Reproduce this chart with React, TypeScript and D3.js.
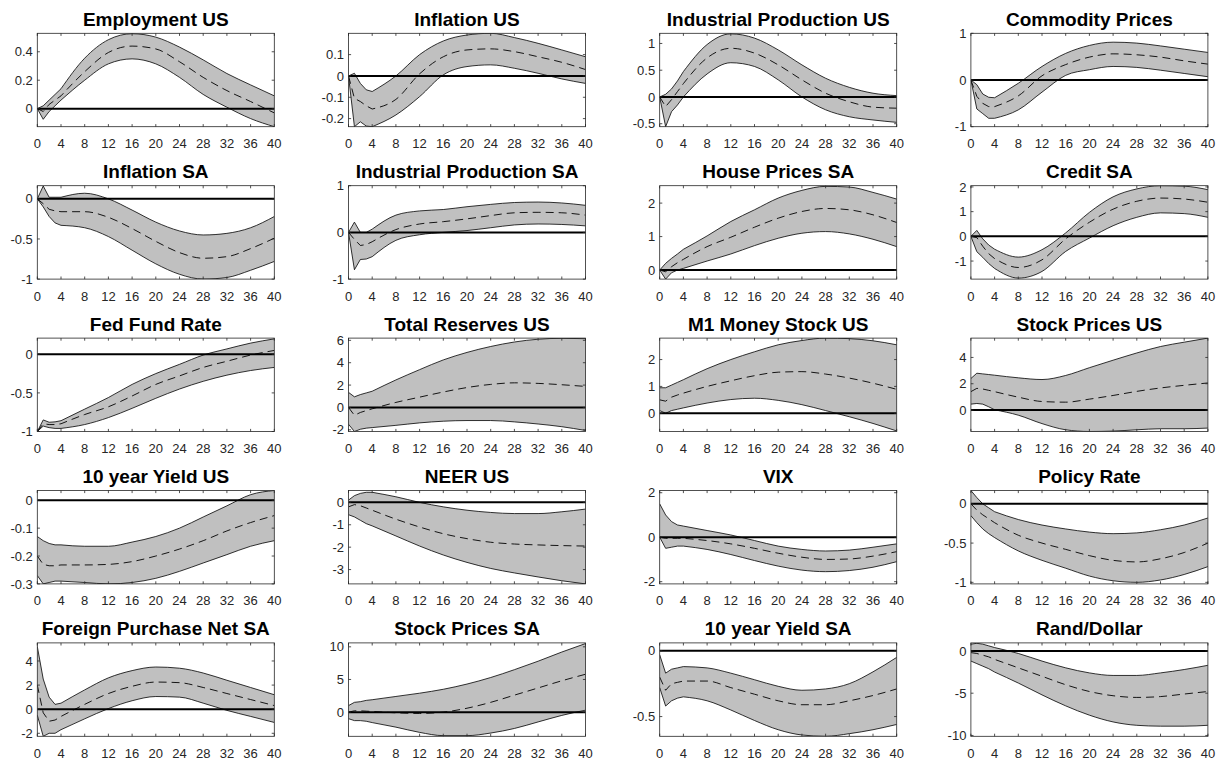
import React from "react";
import * as d3 from "d3";

// Forecast horizons (quarters) at which each response is recorded
const horizons = [0, 1, 2, 3, 4, 8, 12, 16, 20, 24, 28, 32, 36, 40];
const xTicks = [0, 4, 8, 12, 16, 20, 24, 28, 32, 36, 40];
// Responses are joined with straight segments up to this index, smooth curves after it
const KNOT = 4;

const titles = [
  "Employment US", "Inflation US", "Industrial Production US", "Commodity Prices",
  "Inflation SA", "Industrial Production SA", "House Prices SA", "Credit SA",
  "Fed Fund Rate", "Total Reserves US", "M1 Money Stock US", "Stock Prices US",
  "10 year Yield US", "NEER US", "VIX", "Policy Rate",
  "Foreign Purchase Net SA", "Stock Prices SA", "10 year Yield SA", "Rand/Dollar",
];

const yDomains: [number, number][] = [
  [-0.127, 0.53], [-0.238, 0.2], [-0.556, 1.19], [-1, 1],
  [-1.0, 0.164], [-1, 1], [-0.27, 2.52], [-1.73, 2.05],
  [-1.0, 0.21], [-2.15, 6.2], [-0.68, 2.8], [-1.63, 5.47],
  [-0.3, 0.035], [-3.64, 0.53], [-2.1, 2.1], [-1.02, 0.17],
  [-2.25, 5.5], [-3.7, 10.6], [-0.65, 0.06], [-10.1, 0.95],
];

const yTickValues = [
  [0, 0.2, 0.4], [-0.2, -0.1, 0, 0.1], [-0.5, 0, 0.5, 1], [-1, 0, 1],
  [-1, -0.5, 0], [-1, 0, 1], [0, 1, 2], [-1, 0, 1, 2],
  [-1, -0.5, 0], [-2, 0, 2, 4, 6], [0, 1, 2], [0, 2, 4],
  [-0.3, -0.2, -0.1, 0], [-3, -2, -1, 0], [-2, 0, 2], [-1, -0.5, 0],
  [-2, 0, 2, 4], [0, 5, 10], [-0.5, 0], [-10, -5, 0],
];

// Impulse responses: lower band, median, upper band
const employmentUS = {
  lo: [0, -0.075, -0.02, 0.02, 0.06, 0.2, 0.315, 0.35, 0.315, 0.22, 0.1, 0.01, -0.07, -0.127],
  mid: [0, -0.02, 0.03, 0.06, 0.09, 0.26, 0.395, 0.44, 0.42, 0.33, 0.22, 0.127, 0.05, -0.03],
  hi: [0, 0.02, 0.06, 0.1, 0.14, 0.355, 0.485, 0.527, 0.503, 0.433, 0.343, 0.247, 0.167, 0.09],
};
const inflationUS = {
  lo: [0, -0.238, -0.215, -0.235, -0.238, -0.183, -0.097, 0.005, 0.044, 0.052, 0.036, 0.0125, -0.014, -0.035],
  mid: [0, -0.105, -0.12, -0.14, -0.155, -0.11, 0.01, 0.09, 0.122, 0.127, 0.114, 0.09, 0.064, 0.03],
  hi: [0, 0.0125, -0.035, -0.065, -0.073, 0, 0.1, 0.164, 0.192, 0.2, 0.18, 0.153, 0.122, 0.09],
};
const indProdUS = {
  lo: [0, -0.556, -0.275, -0.15, 0.0, 0.43, 0.64, 0.57, 0.32, 0.0, -0.24, -0.37, -0.43, -0.475],
  mid: [0, -0.18, -0.05, 0.1, 0.25, 0.73, 0.91, 0.82, 0.6, 0.32, 0.07, -0.09, -0.19, -0.21],
  hi: [0, 0.05, 0.15, 0.3, 0.475, 0.98, 1.18, 1.1, 0.88, 0.6, 0.35, 0.18, 0.07, 0.025],
};
const commodityPrices = {
  lo: [0, -0.62, -0.72, -0.82, -0.82, -0.64, -0.26, 0.1, 0.22, 0.29, 0.27, 0.21, 0.14, 0.07],
  mid: [0, -0.35, -0.5, -0.57, -0.57, -0.34, 0.09, 0.33, 0.49, 0.56, 0.54, 0.49, 0.41, 0.34],
  hi: [0, -0.1, -0.3, -0.37, -0.38, -0.07, 0.29, 0.57, 0.74, 0.81, 0.79, 0.73, 0.66, 0.59],
};
const inflationSA = {
  lo: [0, -0.1, -0.22, -0.3, -0.33, -0.36, -0.47, -0.64, -0.81, -0.94, -1.0, -0.98, -0.89, -0.78],
  mid: [0, -0.06, -0.13, -0.15, -0.16, -0.16, -0.23, -0.37, -0.53, -0.67, -0.74, -0.72, -0.62, -0.49],
  hi: [0, 0.16, 0.02, 0.02, 0.02, 0.07, 0.0, -0.14, -0.29, -0.4, -0.45, -0.43, -0.36, -0.22],
};
const indProdSA = {
  lo: [0, -0.8, -0.58, -0.57, -0.52, -0.17, -0.05, 0.0, 0.04, 0.1, 0.16, 0.18, 0.17, 0.14],
  mid: [0, -0.15, -0.28, -0.26, -0.2, 0.06, 0.18, 0.23, 0.29, 0.36, 0.42, 0.43, 0.42, 0.37],
  hi: [0, 0.22, 0.0, 0.0, 0.07, 0.37, 0.46, 0.49, 0.55, 0.6, 0.64, 0.65, 0.63, 0.58],
};
const housePricesSA = {
  lo: [0, -0.27, -0.08, 0.0, 0.05, 0.27, 0.48, 0.73, 0.95, 1.1, 1.15, 1.08, 0.92, 0.7],
  mid: [0, -0.05, 0.1, 0.22, 0.32, 0.7, 0.98, 1.28, 1.55, 1.75, 1.84, 1.8, 1.65, 1.42],
  hi: [0, 0.2, 0.35, 0.48, 0.62, 1.02, 1.45, 1.8, 2.15, 2.38, 2.5, 2.48, 2.32, 2.12],
};
const creditSA = {
  lo: [0, -0.62, -0.85, -1.1, -1.3, -1.69, -1.42, -0.61, -0.07, 0.43, 0.77, 0.95, 0.92, 0.77],
  mid: [0, -0.05, -0.4, -0.7, -0.9, -1.26, -0.95, -0.1, 0.57, 1.1, 1.42, 1.55, 1.51, 1.38],
  hi: [0, 0.24, -0.1, -0.35, -0.52, -0.84, -0.54, 0.14, 0.97, 1.6, 1.92, 2.05, 2.03, 1.89],
};
const fedFundRate = {
  lo: [-1.0, -0.93, -0.95, -0.96, -0.96, -0.91, -0.82, -0.7, -0.57, -0.45, -0.35, -0.27, -0.21, -0.17],
  mid: [-1.0, -0.9, -0.91, -0.91, -0.9, -0.78, -0.68, -0.54, -0.39, -0.28, -0.17, -0.09, -0.01, 0.05],
  hi: [-1.0, -0.85, -0.88, -0.875, -0.86, -0.71, -0.56, -0.39, -0.25, -0.13, -0.01, 0.07, 0.145, 0.2],
};
const totalReservesUS = {
  lo: [-1.5, -2.15, -1.95, -1.85, -1.8, -1.6, -1.38, -1.23, -1.17, -1.17, -1.29, -1.48, -1.72, -2.06],
  mid: [0, -0.7, -0.45, -0.28, -0.12, 0.45, 0.92, 1.38, 1.78, 2.06, 2.2, 2.15, 2.03, 1.88],
  hi: [1.35, 0.95, 1.15, 1.3, 1.45, 2.46, 3.38, 4.25, 4.92, 5.45, 5.85, 6.1, 6.18, 6.15],
};
const m1MoneyStockUS = {
  lo: [0.1, 0.0, 0.1, 0.15, 0.2, 0.38, 0.51, 0.56, 0.48, 0.32, 0.1, -0.13, -0.38, -0.66],
  mid: [0.5, 0.45, 0.6, 0.68, 0.75, 1.0, 1.21, 1.4, 1.53, 1.55, 1.46, 1.31, 1.12, 0.89],
  hi: [0.95, 0.95, 1.05, 1.15, 1.25, 1.66, 2.0, 2.29, 2.55, 2.71, 2.8, 2.78, 2.7, 2.55],
};
const stockPricesUS = {
  lo: [0.45, 0.5, 0.45, 0.25, 0.02, -0.39, -1.03, -1.5, -1.63, -1.6, -1.5, -1.42, -1.42, -1.37],
  mid: [1.4, 1.65, 1.6, 1.5, 1.4, 0.98, 0.65, 0.6, 0.83, 1.11, 1.42, 1.68, 1.88, 2.06],
  hi: [2.4, 2.8, 2.75, 2.7, 2.65, 2.45, 2.32, 2.63, 3.22, 3.79, 4.34, 4.83, 5.16, 5.47],
};
const yield10US = {
  lo: [-0.27, -0.3, -0.295, -0.29, -0.29, -0.295, -0.3, -0.295, -0.28, -0.255, -0.225, -0.195, -0.165, -0.145],
  mid: [-0.2, -0.23, -0.235, -0.235, -0.232, -0.232, -0.23, -0.22, -0.2, -0.175, -0.145, -0.11, -0.08, -0.055],
  hi: [-0.13, -0.145, -0.155, -0.16, -0.16, -0.165, -0.165, -0.15, -0.13, -0.1, -0.06, -0.02, 0.02, 0.035],
};
const neerUS = {
  lo: [-0.55, -0.65, -0.8, -0.95, -1.05, -1.5, -1.95, -2.35, -2.68, -2.95, -3.15, -3.33, -3.5, -3.64],
  mid: [-0.2, -0.1, -0.15, -0.25, -0.35, -0.75, -1.1, -1.4, -1.62, -1.78, -1.86, -1.9, -1.93, -1.95],
  hi: [0.1, 0.3, 0.4, 0.45, 0.45, 0.25, 0.0, -0.2, -0.35, -0.45, -0.5, -0.5, -0.42, -0.3],
};
const vix = {
  lo: [0, -0.5, -0.45, -0.4, -0.4, -0.55, -0.78, -1.05, -1.3, -1.48, -1.55, -1.5, -1.35, -1.1],
  mid: [0, -0.05, -0.05, -0.05, -0.05, -0.15, -0.3, -0.5, -0.72, -0.9, -1.0, -0.98, -0.85, -0.65],
  hi: [1.5, 1.0, 0.7, 0.55, 0.5, 0.3, 0.1, -0.15, -0.4, -0.55, -0.62, -0.58, -0.45, -0.3],
};
const policyRate = {
  lo: [-0.15, -0.24, -0.32, -0.38, -0.43, -0.6, -0.72, -0.82, -0.92, -0.98, -1.0, -0.97, -0.9, -0.8],
  mid: [0, -0.08, -0.14, -0.19, -0.24, -0.4, -0.5, -0.58, -0.66, -0.72, -0.74, -0.7, -0.62, -0.5],
  hi: [0.17, 0.08, 0.0, -0.05, -0.1, -0.2, -0.27, -0.32, -0.36, -0.38, -0.37, -0.33, -0.27, -0.18],
};
const foreignPurchaseSA = {
  lo: [-0.5, -2.25, -2.0, -2.0, -1.7, -0.8, 0.05, 0.7, 1.05, 1.0, 0.5, -0.1, -0.6, -1.1],
  mid: [2.0, -0.3, -1.0, -0.9, -0.6, 0.4, 1.3, 1.9, 2.25, 2.2, 1.8, 1.3, 0.8, 0.3],
  hi: [5.2, 2.5, 1.0, 0.4, 0.5, 1.6, 2.6, 3.2, 3.5, 3.4, 3.0, 2.4, 1.8, 1.2],
};
const stockPricesSA = {
  lo: [-1.0, -1.3, -1.3, -1.4, -1.6, -2.3, -3.1, -3.6, -3.6, -3.2, -2.5, -1.5, -0.5, 0.3],
  mid: [0, 0.2, 0.2, 0.15, 0.1, -0.1, -0.2, 0.0, 0.6, 1.5, 2.6, 3.7, 4.8, 5.8],
  hi: [1.0, 1.5, 1.6, 1.8, 1.9, 2.4, 2.9, 3.5, 4.3, 5.3, 6.5, 7.8, 9.2, 10.5],
};
const yield10SA = {
  lo: [-0.28, -0.42, -0.38, -0.36, -0.35, -0.38, -0.45, -0.53, -0.6, -0.64, -0.65, -0.63, -0.6, -0.56],
  mid: [-0.2, -0.3, -0.25, -0.24, -0.23, -0.23, -0.28, -0.33, -0.38, -0.41, -0.41, -0.38, -0.34, -0.29],
  hi: [-0.03, -0.17, -0.14, -0.13, -0.12, -0.13, -0.17, -0.22, -0.27, -0.3, -0.29, -0.25, -0.16, -0.05],
};
const randDollar = {
  lo: [-1.2, -1.5, -1.8, -2.1, -2.5, -3.8, -5.2, -6.5, -7.6, -8.4, -8.8, -8.9, -8.9, -8.8],
  mid: [-0.2, -0.3, -0.5, -0.7, -1.0, -2.0, -3.0, -4.0, -4.8, -5.3, -5.5, -5.4, -5.1, -4.8],
  hi: [0.8, 0.9, 0.8, 0.6, 0.4, -0.3, -1.2, -2.0, -2.6, -2.9, -2.9, -2.6, -2.2, -1.7],
};

const bands = [
  employmentUS, inflationUS, indProdUS, commodityPrices,
  inflationSA, indProdSA, housePricesSA, creditSA,
  fedFundRate, totalReservesUS, m1MoneyStockUS, stockPricesUS,
  yield10US, neerUS, vix, policyRate,
  foreignPurchaseSA, stockPricesSA, yield10SA, randDollar,
];

const W = 1221;
const H = 762;
const COL0 = 37.3;
const COL_STEP = 311.2;
const PW = 237;
const ROW0 = 33.3;
const ROW_STEP = 152.4;
const PH = 93.4;
const TICK = 2.6;
const FONT = "'Liberation Sans', Arial, Helvetica, sans-serif";
const AXIS_COLOR = "#262626";

type Pt = [number, number];

const linearGen = d3.line<Pt>().curve(d3.curveLinear);
const smoothGen = d3.line<Pt>().curve(d3.curveMonotoneX);

// Straight segments for the first horizons, monotone curve afterwards; `first`
// decides whether the path opens with a move or continues an existing one.
function hybridPath(pts: Pt[], first: boolean): string {
  const head = pts.slice(0, KNOT + 1);
  const tail = pts.slice(KNOT);
  const a = linearGen(head) || "";
  const b = (smoothGen(tail) || "").replace(/^M/, "L");
  const s = a + b;
  return first ? s : s.replace(/^M/, "L");
}

function reversedHybrid(pts: Pt[]): string {
  const tail = pts.slice(KNOT).reverse();
  const head = pts.slice(0, KNOT + 1).reverse();
  const b = (smoothGen(tail) || "").replace(/^M/, "L");
  const a = (linearGen(head) || "").replace(/^M/, "L");
  return b + a;
}

function Panel({ i }: { i: number }) {
  const col = i % 4;
  const row = Math.floor(i / 4);
  const left = COL0 + col * COL_STEP;
  const top = ROW0 + row * ROW_STEP;
  const x = d3.scaleLinear().domain([0, 40]).range([left, left + PW]);
  const y = d3.scaleLinear().domain(yDomains[i]).range([top + PH, top]);
  const b = bands[i];

  const toPts = (vals: number[]): Pt[] => vals.map((v, k) => [x(horizons[k]), y(v)]);
  const hiPts = toPts(b.hi);
  const loPts = toPts(b.lo);
  const midPts = toPts(b.mid);

  const bandPath = hybridPath(hiPts, true) + reversedHybrid(loPts) + "Z";

  const clipId = `clip-${i}`;
  const [y0, y1] = yDomains[i];
  const hasZero = y0 <= 0 && y1 >= 0;

  return (
    <g>
      <defs>
        <clipPath id={clipId}>
          <rect x={left} y={top} width={PW} height={PH} />
        </clipPath>
      </defs>
      <g clipPath={`url(#${clipId})`}>
        <path d={bandPath} fill="#c0c0c0" stroke="none" />
        <path d={hybridPath(hiPts, true)} fill="none" stroke="#000" strokeWidth={0.8} />
        <path d={hybridPath(loPts, true)} fill="none" stroke="#000" strokeWidth={0.8} />
        {hasZero && (
          <line x1={x(0)} x2={x(40)} y1={y(0)} y2={y(0)} stroke="#000" strokeWidth={2} />
        )}
        <path
          d={hybridPath(midPts, true)}
          fill="none"
          stroke="#000"
          strokeWidth={0.9}
          strokeDasharray="8,5"
        />
      </g>
      <rect
        x={left}
        y={top}
        width={PW}
        height={PH}
        fill="none"
        stroke={AXIS_COLOR}
        strokeWidth={0.8}
      />
      {xTicks.map((t) => (
        <g key={`xt${t}`}>
          <line x1={x(t)} x2={x(t)} y1={top + PH} y2={top + PH - TICK} stroke={AXIS_COLOR} strokeWidth={0.8} />
          <line x1={x(t)} x2={x(t)} y1={top} y2={top + TICK} stroke={AXIS_COLOR} strokeWidth={0.8} />
          <text
            x={x(t)}
            y={top + PH + 21.5}
            textAnchor="middle"
            fontFamily={FONT}
            fontSize={13}
            fill={AXIS_COLOR}
          >
            {String(t)}
          </text>
        </g>
      ))}
      {yTickValues[i].map((t) => (
        <g key={`yt${t}`}>
          <line x1={left} x2={left + TICK} y1={y(t)} y2={y(t)} stroke={AXIS_COLOR} strokeWidth={0.8} />
          <line x1={left + PW} x2={left + PW - TICK} y1={y(t)} y2={y(t)} stroke={AXIS_COLOR} strokeWidth={0.8} />
          <text
            x={left - 4.5}
            y={y(t) + 4.6}
            textAnchor="end"
            fontFamily={FONT}
            fontSize={13}
            fill={AXIS_COLOR}
          >
            {String(t)}
          </text>
        </g>
      ))}
      <text
        x={left + PW / 2}
        y={top - 7.5}
        textAnchor="middle"
        fontFamily={FONT}
        fontSize={19}
        fontWeight="bold"
        fill="#000"
      >
        {titles[i]}
      </text>
    </g>
  );
}

export default function App() {
  return (
    <svg
      width={W}
      height={H}
      viewBox={`0 0 ${W} ${H}`}
      style={{ position: "absolute", left: 0, top: 0, background: "#fff" }}
    >
      <rect width={W} height={H} fill="#fff" />
      {titles.map((_, i) => (
        <Panel key={i} i={i} />
      ))}
    </svg>
  );
}
